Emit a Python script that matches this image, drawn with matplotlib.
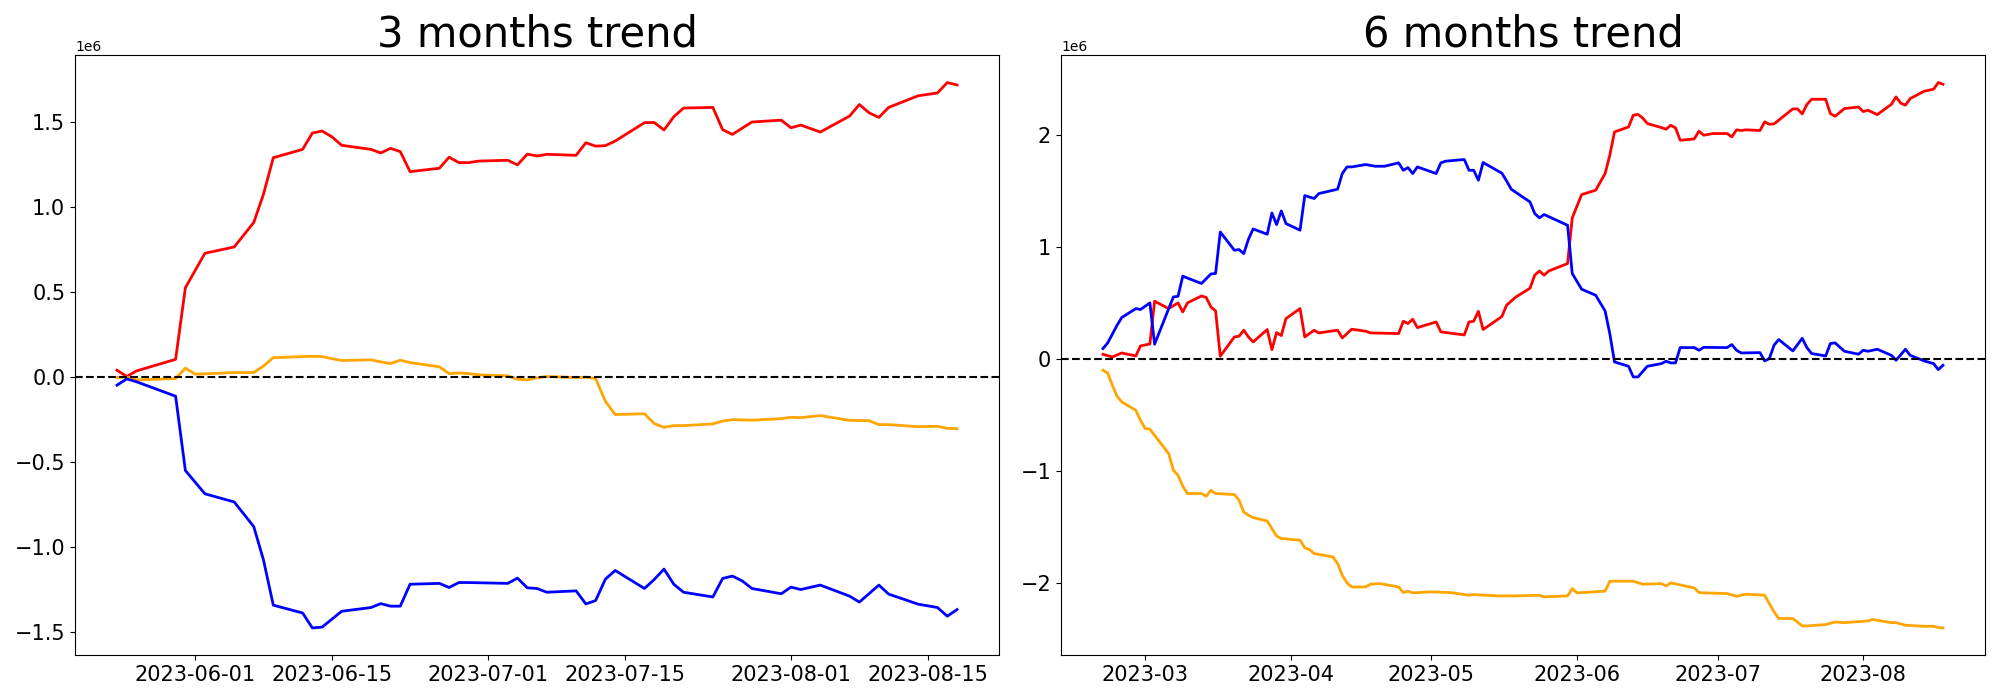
import matplotlib
matplotlib.use("Agg")
import matplotlib.pyplot as plt
import pandas as pd

# ---- 3 months panel ----
red3_dates = ["05-24", "05-25", "05-26", "05-30", "05-31", "06-02", "06-05", "06-07", "06-08", "06-09",
              "06-12", "06-13", "06-14", "06-15", "06-16", "06-19", "06-20", "06-21", "06-22", "06-23",
              "06-26", "06-27", "06-28", "06-29", "06-30", "07-03", "07-04", "07-05", "07-06", "07-07",
              "07-10", "07-11", "07-12", "07-13", "07-14", "07-17", "07-18", "07-19", "07-20", "07-21",
              "07-24", "07-25", "07-26", "07-28", "07-31", "08-01", "08-02", "08-04", "08-07", "08-08",
              "08-09", "08-10", "08-11", "08-14", "08-16", "08-17", "08-18"]
red3_vals = [0.041, 0.004, 0.037, 0.105, 0.526, 0.729, 0.766, 0.910, 1.077, 1.291,
             1.340, 1.436, 1.448, 1.414, 1.364, 1.340, 1.319, 1.346, 1.327, 1.209,
             1.229, 1.294, 1.262, 1.262, 1.271, 1.276, 1.249, 1.312, 1.301, 1.311,
             1.305, 1.379, 1.359, 1.362, 1.389, 1.497, 1.498, 1.454, 1.532, 1.583,
             1.587, 1.456, 1.428, 1.501, 1.512, 1.467, 1.483, 1.442, 1.536, 1.604,
             1.555, 1.528, 1.587, 1.655, 1.672, 1.733, 1.719]

orange3_dates = ["05-24", "05-25", "05-26", "05-30", "05-31", "06-01", "06-02", "06-05", "06-07", "06-08",
                 "06-09", "06-12", "06-13", "06-14", "06-15", "06-16", "06-19", "06-20", "06-21", "06-22",
                 "06-23", "06-26", "06-27", "06-28", "06-29", "06-30", "07-03", "07-04", "07-05", "07-06",
                 "07-07", "07-10", "07-11", "07-12", "07-13", "07-14", "07-17", "07-18", "07-19", "07-20",
                 "07-21", "07-24", "07-25", "07-26", "07-28", "07-31", "08-01", "08-02", "08-04", "08-07",
                 "08-09", "08-10", "08-11", "08-14", "08-16", "08-17", "08-18"]
orange3_vals = [-0.002, 0.0, -0.016, -0.008, 0.053, 0.018, 0.020, 0.027, 0.027, 0.066,
                0.115, 0.121, 0.123, 0.121, 0.109, 0.098, 0.102, 0.090, 0.080, 0.100,
                0.086, 0.061, 0.021, 0.025, 0.021, 0.014, 0.008, -0.012, -0.016, -0.004,
                0.004, -0.002, 0.0, -0.008, -0.142, -0.220, -0.215, -0.273, -0.295, -0.285,
                -0.285, -0.275, -0.258, -0.250, -0.253, -0.244, -0.236, -0.238, -0.226, -0.254,
                -0.256, -0.279, -0.279, -0.291, -0.289, -0.301, -0.303]

blue3_dates = ["05-24", "05-25", "05-26", "05-30", "05-31", "06-02", "06-05", "06-07", "06-08", "06-09",
               "06-12", "06-13", "06-14", "06-16", "06-19", "06-20", "06-21", "06-22", "06-23", "06-26",
               "06-27", "06-28", "06-29", "07-03", "07-04", "07-05", "07-06", "07-07", "07-10", "07-11",
               "07-12", "07-13", "07-14", "07-17", "07-18", "07-19", "07-20", "07-21", "07-24", "07-25",
               "07-26", "07-27", "07-28", "07-31", "08-01", "08-02", "08-04", "08-07", "08-08", "08-10",
               "08-11", "08-14", "08-16", "08-17", "08-18"]
blue3_vals = [-0.047, -0.010, -0.027, -0.112, -0.549, -0.686, -0.734, -0.879, -1.076, -1.341,
              -1.387, -1.475, -1.470, -1.377, -1.355, -1.332, -1.347, -1.347, -1.218, -1.213,
              -1.237, -1.208, -1.208, -1.213, -1.182, -1.239, -1.243, -1.265, -1.257, -1.334,
              -1.314, -1.188, -1.137, -1.243, -1.190, -1.129, -1.218, -1.265, -1.293, -1.184,
              -1.170, -1.198, -1.243, -1.274, -1.235, -1.249, -1.223, -1.288, -1.323, -1.223,
              -1.276, -1.335, -1.355, -1.406, -1.367]

# ---- 6 months panel ----
red6_dates = ["02-20", "02-22", "02-24", "02-27", "02-28", "03-02", "03-03", "03-06", "03-08", "03-09",
              "03-10", "03-13", "03-14", "03-15", "03-16", "03-17", "03-20", "03-21", "03-22", "03-23",
              "03-24", "03-27", "03-28", "03-29", "03-30", "03-31", "04-03", "04-04", "04-06", "04-07",
              "04-11", "04-12", "04-14", "04-17", "04-18", "04-24", "04-25", "04-26", "04-27", "04-28",
              "05-02", "05-03", "05-08", "05-09", "05-10", "05-11", "05-12", "05-16", "05-17", "05-19",
              "05-22", "05-23", "05-24", "05-25", "05-26", "05-30", "05-31", "06-02", "06-05", "06-07",
              "06-08", "06-09", "06-12", "06-13", "06-14", "06-15", "06-16", "06-19", "06-20", "06-21",
              "06-22", "06-23", "06-26", "06-27", "06-28", "06-30", "07-03", "07-04", "07-05", "07-06",
              "07-07", "07-10", "07-11", "07-12", "07-13", "07-17", "07-18", "07-19", "07-20", "07-21",
              "07-24", "07-25", "07-26", "07-28", "07-31", "08-01", "08-02", "08-04", "08-07", "08-08",
              "08-09", "08-10", "08-11", "08-14", "08-16", "08-17", "08-18"]
red6_vals = [0.038, 0.014, 0.050, 0.023, 0.113, 0.130, 0.512, 0.446, 0.497, 0.416,
             0.497, 0.559, 0.545, 0.461, 0.425, 0.021, 0.193, 0.199, 0.253, 0.193,
             0.148, 0.259, 0.080, 0.232, 0.205, 0.357, 0.446, 0.193, 0.253, 0.229,
             0.253, 0.184, 0.262, 0.244, 0.229, 0.223, 0.333, 0.313, 0.351, 0.276,
             0.327, 0.238, 0.211, 0.327, 0.333, 0.422, 0.259, 0.375, 0.476, 0.550,
             0.628, 0.744, 0.782, 0.744, 0.782, 0.848, 1.256, 1.464, 1.503, 1.652,
             1.815, 2.023, 2.068, 2.172, 2.180, 2.148, 2.098, 2.062, 2.048, 2.083,
             2.060, 1.949, 1.961, 2.030, 1.994, 2.009, 2.009, 1.979, 2.042, 2.036,
             2.042, 2.036, 2.113, 2.092, 2.095, 2.229, 2.229, 2.184, 2.268, 2.315,
             2.315, 2.187, 2.163, 2.232, 2.246, 2.205, 2.217, 2.178, 2.270, 2.336,
             2.280, 2.262, 2.321, 2.387, 2.405, 2.464, 2.449]

blue6_dates = ["02-20", "02-21", "02-23", "02-24", "02-27", "02-28", "03-02", "03-03", "03-07", "03-08",
               "03-09", "03-13", "03-15", "03-16", "03-17", "03-20", "03-21", "03-22", "03-23", "03-24",
               "03-27", "03-28", "03-29", "03-30", "03-31", "04-03", "04-04", "04-06", "04-07", "04-11",
               "04-12", "04-13", "04-14", "04-17", "04-19", "04-21", "04-24", "04-25", "04-26", "04-27",
               "04-28", "05-02", "05-03", "05-04", "05-08", "05-09", "05-10", "05-11", "05-12", "05-16",
               "05-17", "05-18", "05-22", "05-23", "05-24", "05-25", "05-30", "05-31", "06-02", "06-05",
               "06-07", "06-08", "06-09", "06-12", "06-13", "06-14", "06-16", "06-19", "06-20", "06-21",
               "06-22", "06-23", "06-26", "06-27", "06-28", "07-03", "07-04", "07-05", "07-06", "07-10",
               "07-11", "07-12", "07-13", "07-14", "07-17", "07-19", "07-20", "07-21", "07-24", "07-25",
               "07-26", "07-28", "07-31", "08-01", "08-02", "08-04", "08-07", "08-08", "08-10", "08-11",
               "08-14", "08-16", "08-17", "08-18"]
blue6_vals = [0.089, 0.139, 0.297, 0.366, 0.446, 0.438, 0.497, 0.128, 0.550, 0.556,
              0.735, 0.670, 0.755, 0.760, 1.130, 0.967, 0.973, 0.937, 1.065, 1.157,
              1.110, 1.300, 1.196, 1.318, 1.205, 1.146, 1.455, 1.429, 1.473, 1.512,
              1.652, 1.711, 1.711, 1.732, 1.717, 1.717, 1.747, 1.681, 1.705, 1.652,
              1.711, 1.652, 1.747, 1.762, 1.777, 1.681, 1.681, 1.592, 1.750, 1.655,
              1.586, 1.512, 1.398, 1.295, 1.256, 1.286, 1.190, 0.759, 0.619, 0.565,
              0.425, 0.223, -0.030, -0.069, -0.164, -0.164, -0.069, -0.045, -0.024, -0.039,
              -0.039, 0.098, 0.098, 0.074, 0.100, 0.098, 0.125, 0.074, 0.050, 0.053,
              -0.021, 0.000, 0.119, 0.170, 0.068, 0.181, 0.098, 0.045, 0.023, 0.134,
              0.140, 0.065, 0.039, 0.074, 0.065, 0.083, 0.029, -0.015, 0.083, 0.029,
              -0.021, -0.045, -0.099, -0.060]

orange6_dates = ["02-20", "02-21", "02-22", "02-23", "02-24", "02-27", "02-28", "03-01", "03-02", "03-06",
                 "03-07", "03-08", "03-09", "03-10", "03-13", "03-14", "03-15", "03-16", "03-20", "03-21",
                 "03-22", "03-23", "03-24", "03-27", "03-28", "03-29", "03-30", "04-03", "04-04", "04-05",
                 "04-06", "04-10", "04-11", "04-12", "04-13", "04-14", "04-17", "04-18", "04-20", "04-24",
                 "04-25", "04-26", "04-27", "05-01", "05-05", "05-09", "05-10", "05-15", "05-19", "05-24",
                 "05-25", "05-30", "05-31", "06-01", "06-07", "06-08", "06-13", "06-15", "06-19", "06-20",
                 "06-21", "06-26", "06-27", "06-28", "07-03", "07-05", "07-07", "07-11", "07-13", "07-14",
                 "07-17", "07-19", "07-20", "07-24", "07-26", "07-28", "08-02", "08-03", "08-07", "08-08",
                 "08-10", "08-14", "08-16", "08-17", "08-18"]
orange6_vals = [-0.104, -0.129, -0.238, -0.337, -0.387, -0.462, -0.551, -0.625, -0.631, -0.848,
                -0.997, -1.042, -1.140, -1.205, -1.205, -1.229, -1.176, -1.205, -1.214, -1.265,
                -1.370, -1.399, -1.420, -1.450, -1.518, -1.584, -1.607, -1.622, -1.688, -1.705,
                -1.741, -1.771, -1.830, -1.935, -2.003, -2.039, -2.039, -2.015, -2.009, -2.039,
                -2.089, -2.077, -2.092, -2.083, -2.089, -2.113, -2.107, -2.119, -2.119, -2.113,
                -2.128, -2.119, -2.054, -2.092, -2.077, -1.988, -1.988, -2.015, -2.009, -2.030,
                -2.003, -2.048, -2.089, -2.092, -2.098, -2.122, -2.104, -2.113, -2.262, -2.321,
                -2.321, -2.387, -2.387, -2.375, -2.352, -2.358, -2.343, -2.330, -2.358, -2.358,
                -2.381, -2.390, -2.390, -2.402, -2.405]


def to_dates(md):
    return pd.to_datetime(["2023-" + s for s in md])


def scaled(vals):
    return [v * 1e6 for v in vals]


fig, (ax1, ax2) = plt.subplots(1, 2, figsize=(20, 7), dpi=100)
fig.subplots_adjust(left=0.0375, right=0.9925, bottom=0.064, top=0.921, wspace=0.067)

ax1.plot(to_dates(red3_dates), scaled(red3_vals), color="red", lw=2)
ax1.plot(to_dates(orange3_dates), scaled(orange3_vals), color="orange", lw=2)
ax1.plot(to_dates(blue3_dates), scaled(blue3_vals), color="blue", lw=2)
ax1.axhline(0, color="black", ls="--", lw=1.5)
ax1.set_title("3 months trend", fontsize=30)

ax2.plot(to_dates(red6_dates), scaled(red6_vals), color="red", lw=2)
ax2.plot(to_dates(blue6_dates), scaled(blue6_vals), color="blue", lw=2)
ax2.plot(to_dates(orange6_dates), scaled(orange6_vals), color="orange", lw=2)
ax2.axhline(0, color="black", ls="--", lw=1.5)
ax2.set_title("6 months trend", fontsize=30)

for ax in (ax1, ax2):
    ax.tick_params(labelsize=15)
    ax.yaxis.get_offset_text().set_fontsize(10)

fig.savefig("out.png", dpi=100)
